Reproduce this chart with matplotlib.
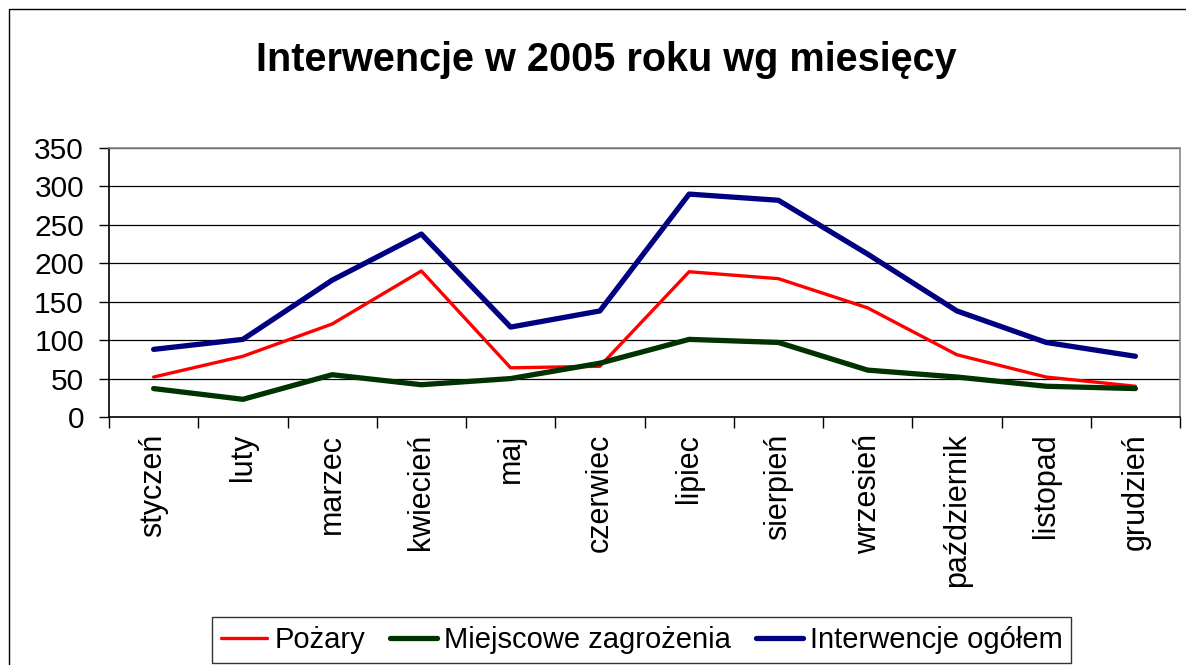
import numpy as np
import matplotlib
matplotlib.use("Agg")
from matplotlib import pyplot as plt
from matplotlib.patches import Rectangle

# dane
miesiace = ['styczeń', 'luty', 'marzec', 'kwiecień', 'maj', 'czerwiec',
            'lipiec', 'sierpień', 'wrzesień', 'październik', 'listopad', 'grudzień']
pozary = [52, 79, 121, 190, 64, 66, 189, 180, 142, 81, 52, 40]
miejscowe = [37, 23, 55, 42, 50, 70, 101, 97, 61, 52, 40, 37]
ogolem = [88, 101, 178, 238, 117, 138, 290, 282, 212, 138, 97, 79]

plt.rcParams['font.family'] = ['Liberation Sans', 'DejaVu Sans']

W, H = 1186, 665
fig = plt.figure(figsize=(W / 100, H / 100), dpi=100)
fig.patch.set_facecolor('white')

# ramka wykresu (obcięta z prawej i z dołu)
fig.patches.append(Rectangle((9 / W, -0.2), 1.2, 1 - 9 / H + 0.2, transform=fig.transFigure,
                             fill=False, edgecolor='black', linewidth=1.0))

ax = fig.add_axes([109 / W, 1 - 417 / H, (1180 - 109) / W, (417 - 148) / H])

x = np.arange(len(miesiace))
ax.plot(x, pozary, color='#FF0000', lw=2.4, label='Pożary', solid_capstyle='round')
ax.plot(x, miejscowe, color='#003300', lw=3.8, label='Miejscowe zagrożenia', solid_capstyle='round')
ax.plot(x, ogolem, color='#000080', lw=3.8, label='Interwencje ogółem', solid_capstyle='round')

ax.set_xlim(-0.5, len(miesiace) - 0.5)
ax.set_ylim(0, 350)
ax.set_yticks(np.arange(0, 351, 50))
ax.yaxis.grid(True, color='black', lw=0.9)
ax.set_axisbelow(True)

ax.set_xticks(x)
ax.set_xticklabels(miesiace, rotation=90, fontsize=22)
ax.set_xticks(np.arange(-0.5, len(miesiace), 1), minor=True)
ax.tick_params(axis='x', which='major', length=0, pad=12)
ax.tick_params(axis='x', which='minor', length=8, width=1, color='black', direction='out')
ax.tick_params(axis='y', length=7, width=1, labelsize=21.5, pad=11, direction='out')

for s in ['top', 'right']:
    ax.spines[s].set_color('#888888')
    ax.spines[s].set_linewidth(1.2)
for s in ['left', 'bottom']:
    ax.spines[s].set_color('black')
    ax.spines[s].set_linewidth(1.2)

fig.text(606 / W, 1 - 60 / H, 'Interwencje w 2005 roku wg miesięcy', ha='center', va='center',
         fontsize=28.5, fontweight='bold')

leg = fig.legend(loc='upper left', bbox_to_anchor=(212 / W, 1 - 617 / H), ncol=3,
                 fontsize=21, frameon=True, fancybox=False, handlelength=1.6,
                 handletextpad=0.25, columnspacing=0.85, borderpad=0.3, borderaxespad=0)
leg.get_frame().set_edgecolor('black')
leg.get_frame().set_linewidth(1.0)

fig.savefig('out.png', dpi=100)
